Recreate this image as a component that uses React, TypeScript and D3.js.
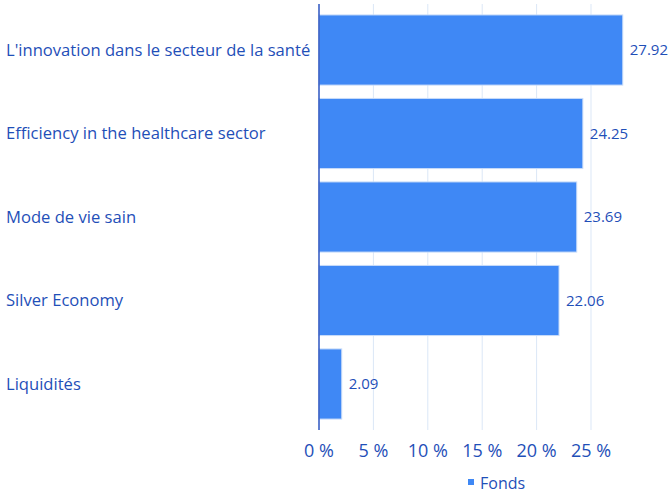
import React from "react";
import * as d3 from "d3";

const categories = [
  "L'innovation dans le secteur de la santé",
  "Efficiency in the healthcare sector",
  "Mode de vie sain",
  "Silver Economy",
  "Liquidités",
];
const values = [27.92, 24.25, 23.69, 22.06, 2.09];
const ticks = [0, 5, 10, 15, 20, 25];
const seriesName = "Fonds";

const W = 668;
const H = 494;
const TEXT = "#1f4fb8";
const BAR = "#3f88f5";
const FONT = "'Open Sans', 'Noto Sans', sans-serif";

export default function App() {
  const x = d3.scaleLinear().domain([0, 5]).range([319, 373.4]);
  const y = d3
    .scaleBand<string>()
    .domain(categories)
    .range([4, 430])
    .paddingInner(0.16)
    .paddingOuter(0.131);

  return (
    <svg width={W} height={H} style={{ position: "absolute", left: 0, top: 0 }} fontFamily={FONT}>
      <rect width={W} height={H} fill="#fff" />
      {ticks.slice(1).map((t) => (
        <line key={t} x1={x(t)} x2={x(t)} y1={4} y2={430} stroke="#dbe7f7" strokeWidth={1} />
      ))}
      {categories.map((c, i) => (
        <g key={c}>
          <rect
            x={x(0)}
            y={y(c)!}
            width={x(values[i]) - x(0)}
            height={y.bandwidth()}
            fill={BAR}
            stroke="#c9dcf9"
            strokeWidth={1}
          />
          <text
            x={x(values[i]) + 7}
            y={y(c)! + y.bandwidth() / 2}
            dy="0.35em"
            fontSize={15}
            fill={TEXT}
          >
            {values[i].toFixed(2)}
          </text>
          <text x={6} y={y(c)! + y.bandwidth() / 2} dy="0.35em" fontSize={16.6} fill={TEXT}>
            {c}
          </text>
        </g>
      ))}
      <line x1={x(0)} x2={x(0)} y1={4} y2={430} stroke="#2d55c0" strokeWidth={1.5} />
      {ticks.map((t) => (
        <text key={t} x={x(t)} y={457} textAnchor="middle" fontSize={18} fill={TEXT}>
          {`${t} %`}
        </text>
      ))}
      <rect x={468} y={479} width={6} height={6} fill={BAR} />
      <text x={480} y={489} fontSize={16} fill={TEXT}>
        {seriesName}
      </text>
    </svg>
  );
}
